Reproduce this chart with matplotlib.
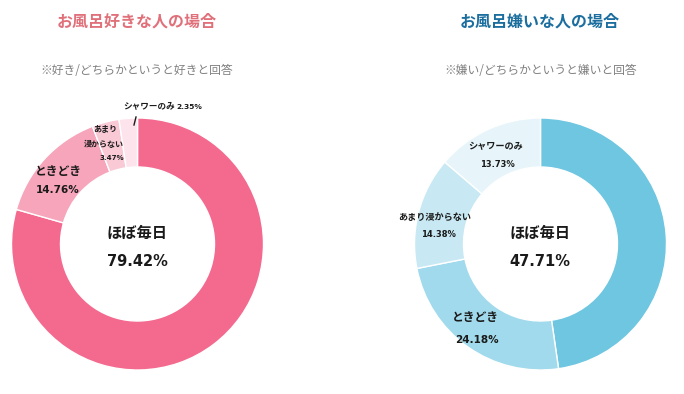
import matplotlib
matplotlib.use("Agg")
import matplotlib.pyplot as plt

plt.rcParams['font.family'] = ['Noto Sans CJK JP', 'DejaVu Sans']

# data
categories = ['ほぼ毎日', 'ときどき', 'あまり浸からない', 'シャワーのみ']
like_values = [79.42, 14.76, 3.47, 2.35]
dislike_values = [47.71, 24.18, 14.38, 13.73]

like_colors = ['#F46A8F', '#F6A5BB', '#F9C9D6', '#FDE4EC']
dislike_colors = ['#6EC6E1', '#A1DAEC', '#C8E9F4', '#E7F5FA']

W, H = 684, 394
fig = plt.figure(figsize=(W / 100, H / 100), dpi=100)
ax = fig.add_axes([0, 0, 1, 1])

R = 126
ring = 49
num_font = ['DejaVu Sans']
txt = '#1a1a1a'


def py(y):
    # pixel row (from top) -> data y
    return H - y


# donuts
for vals, cols, cx, cy in [(like_values, like_colors, 137.5, 244),
                           (dislike_values, dislike_colors, 540.5, 244)]:
    ax.pie(vals, colors=cols, startangle=90, counterclock=False,
           center=(cx, py(cy)), radius=R,
           wedgeprops=dict(width=ring, edgecolor='white', linewidth=1))

ax.set_xlim(0, W)
ax.set_ylim(0, H)
ax.set_aspect('equal')
ax.axis('off')

# titles
ax.text(137, py(22), 'お風呂好きな人の場合', ha='center', va='center',
        fontsize=11.5, fontweight='bold', color='#E0707A')
ax.text(540, py(22), 'お風呂嫌いな人の場合', ha='center', va='center',
        fontsize=11.5, fontweight='bold', color='#1B6E9E')
ax.text(137, py(70), '※好き/どちらかというと好きと回答', ha='center', va='center',
        fontsize=8.5, color='#808080')
ax.text(541, py(70), '※嫌い/どちらかというと嫌いと回答', ha='center', va='center',
        fontsize=8.5, color='#808080')

# center labels
for cx, v in [(137, like_values[0]), (540, dislike_values[0])]:
    ax.text(cx, py(233), categories[0], ha='center', va='center',
            fontsize=11, fontweight='bold', color=txt)
    ax.text(cx, py(262), f'{v:.2f}%', ha='center', va='center',
            fontsize=10.5, fontweight='bold', color=txt, family=num_font)

# left small labels
ax.text(58, py(171), categories[1], ha='center', va='center',
        fontsize=8.5, fontweight='bold', color=txt)
ax.text(58, py(190), f'{like_values[1]:.2f}%', ha='center', va='center',
        fontsize=7.5, fontweight='bold', color=txt, family=num_font)
ax.text(105, py(129), 'あまり', ha='center', va='center',
        fontsize=5.8, fontweight='bold', color=txt)
ax.text(104, py(144), '浸からない', ha='center', va='center',
        fontsize=5.8, fontweight='bold', color=txt)
ax.text(112, py(158), f'{like_values[2]:.2f}%', ha='center', va='center',
        fontsize=5, fontweight='bold', color=txt, family=num_font)
ax.text(123, py(107), categories[3], ha='left', va='center',
        fontsize=6.2, fontweight='bold', color=txt)
ax.text(176, py(107), f'{like_values[3]:.2f}%', ha='left', va='center',
        fontsize=5.4, fontweight='bold', color=txt, family=num_font)
ax.plot([134, 136], [py(125), py(117)], color=txt, lw=1)

# right small labels
ax.text(496, py(147), categories[3], ha='center', va='center',
        fontsize=6.6, fontweight='bold', color=txt)
ax.text(497, py(164), f'{dislike_values[3]:.2f}%', ha='center', va='center',
        fontsize=6, fontweight='bold', color=txt, family=num_font)
ax.text(435, py(217), categories[2], ha='center', va='center',
        fontsize=6.6, fontweight='bold', color=txt)
ax.text(438, py(234), f'{dislike_values[2]:.2f}%', ha='center', va='center',
        fontsize=6, fontweight='bold', color=txt, family=num_font)
ax.text(475, py(317), categories[1], ha='center', va='center',
        fontsize=8.5, fontweight='bold', color=txt)
ax.text(477, py(340), f'{dislike_values[1]:.2f}%', ha='center', va='center',
        fontsize=7.5, fontweight='bold', color=txt, family=num_font)

fig.savefig('out.png', dpi=100, facecolor='white')
